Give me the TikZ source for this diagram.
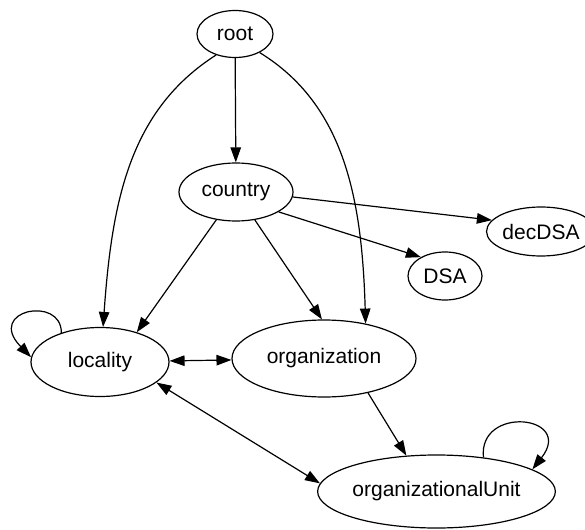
\documentclass[tikz,border=0pt]{standalone}
\usepackage{fontspec}
\setmainfont{Liberation Sans}
\usetikzlibrary{shapes.geometric,arrows.meta}

\begin{document}
\begin{tikzpicture}[x=1pt,y=-1pt,
    ent/.style={draw,ellipse,line width=1.2pt,inner sep=0pt,font=\fontsize{21}{25}\selectfont},
    arr/.style={line width=1.2pt,-{Triangle[length=15pt,width=10.5pt]}},
    darr/.style={line width=1.2pt,{Triangle[length=15pt,width=10.5pt]}-{Triangle[length=15pt,width=10.5pt]}}]
  \useasboundingbox (0,0) rectangle (585,529);
  \node[ent,minimum width=76pt,minimum height=47pt] (root) at (235,34) {root};
  \node[ent,minimum width=114pt,minimum height=58pt] (country) at (236,192) {country};
  \node[ent,minimum width=86pt,minimum height=49pt] (decDSA) at (541,231.5) {decDSA};
  \node[ent,minimum width=74pt,minimum height=48pt] (DSA) at (445,276) {DSA};
  \node[ent,minimum width=138pt,minimum height=69pt] (loc) at (100,362) {locality};
  \node[ent,minimum width=184pt,minimum height=77pt] (org) at (324,358.5) {organization};
  \node[ent,minimum width=195pt,minimum height=73pt] (ou) at (436.5,491.5) {organizationalUnit};
  % edges from root
  \draw[arr] (root) -- (country);
  \draw[arr] (root.228) .. controls (130,110) and (112,200) .. (loc.85);
  \draw[arr] (root.-37) .. controls (345,105) and (362,200) .. (org.40);
  % edges from country
  \draw[arr] (country) -- (loc.39);
  \draw[arr] (country) -- (org.93);
  \draw[arr] (country.-25) -- (DSA.142);
  \draw[arr] (country.-5) -- (decDSA.167);
  % the rest
  \draw[darr] (loc) -- (org);
  \draw[darr] (loc.-20) -- (ou.176);
  \draw[arr] (org.-38) -- (ou.130);
  \draw[arr] (loc.143) .. controls (62,295) and (-15,310) .. (loc.176);
  \draw[arr] (ou.36) .. controls (478,405) and (575,415) .. (ou.13);
\end{tikzpicture}
\end{document}
